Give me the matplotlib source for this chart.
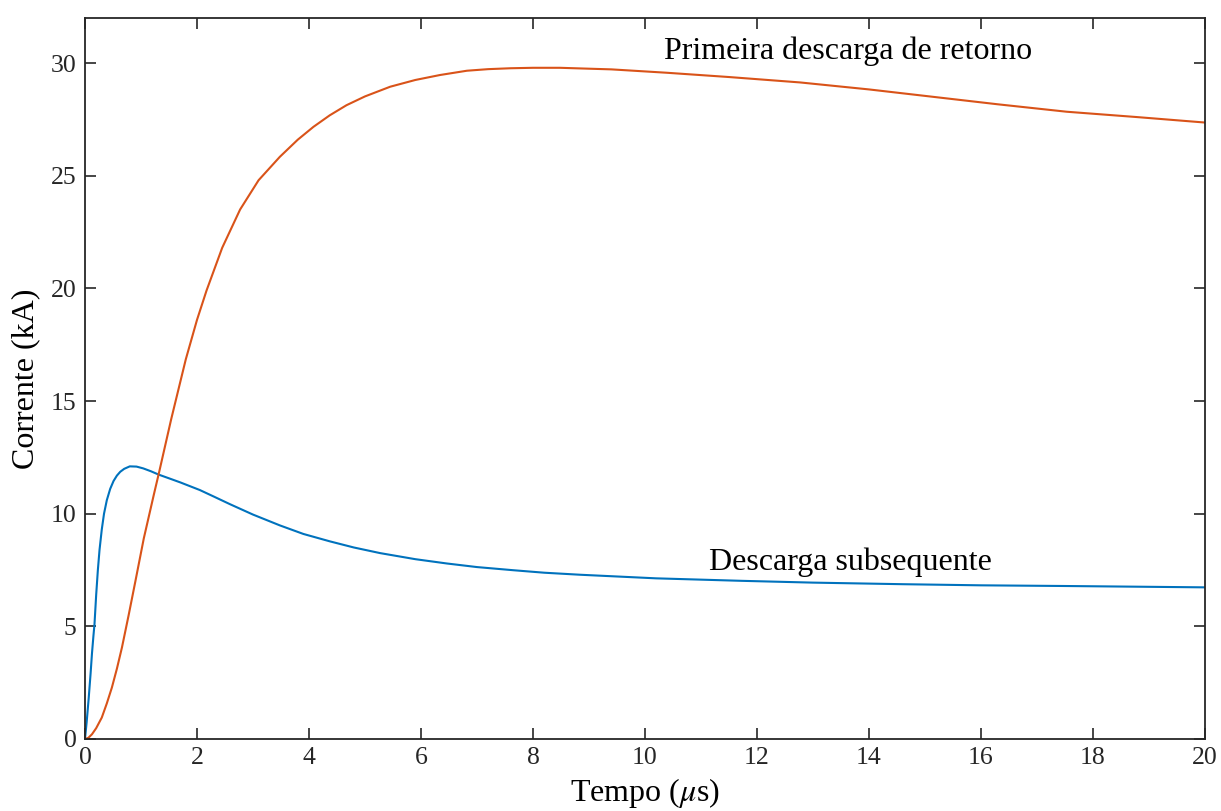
import matplotlib
matplotlib.use('Agg')
import matplotlib.pyplot as plt

# Valores (tempo em us, corrente em kA)
t_primeira = [0, 0.06, 0.125, 0.20, 0.30, 0.39, 0.48, 0.57, 0.66, 0.78, 0.90, 1.05,
              1.23, 1.32, 1.54, 1.80, 2.00, 2.17, 2.45, 2.77, 3.10, 3.48, 3.80,
              4.08, 4.37, 4.67, 5.00, 5.45, 5.90, 6.34, 6.82, 7.20, 7.60, 8.00,
              8.48, 9.00, 9.40, 10.39, 11.50, 12.77, 14.00, 15.15, 16.30, 17.53,
              18.80, 20.0]
i_primeira = [0, 0.05, 0.21, 0.48, 0.95, 1.58, 2.28, 3.12, 4.06, 5.50, 7.00, 8.90,
              10.85, 11.80, 14.20, 16.85, 18.60, 19.90, 21.80, 23.50, 24.80, 25.84, 26.60,
              27.17, 27.68, 28.13, 28.52, 28.95, 29.25, 29.47, 29.66, 29.73, 29.77, 29.79,
              29.79, 29.75, 29.72, 29.57, 29.38, 29.14, 28.83, 28.50, 28.17, 27.84,
              27.60, 27.36]

t_subseq = [0, 0.03, 0.066, 0.10, 0.125, 0.15, 0.17, 0.20, 0.23, 0.26, 0.30, 0.34,
            0.39, 0.45, 0.51, 0.57, 0.63, 0.70, 0.80, 0.92, 1.04, 1.18, 1.32, 1.50,
            1.70, 2.05, 2.30, 2.59, 3.00, 3.48, 3.90, 4.375, 4.80, 5.27, 5.90, 6.46,
            7.00, 7.65, 8.20, 8.84, 10.20, 11.72, 13.00, 14.60, 16.00, 17.49, 20.0]
i_subseq = [0, 0.75, 1.80, 2.90, 3.80, 4.55, 5.10, 6.40, 7.50, 8.40, 9.30, 10.00,
            10.60, 11.10, 11.45, 11.69, 11.86, 11.99, 12.10, 12.09, 12.01, 11.88, 11.73, 11.57,
            11.39, 11.05, 10.76, 10.42, 9.96, 9.48, 9.10, 8.77, 8.50, 8.25, 7.98, 7.79,
            7.63, 7.49, 7.38, 7.29, 7.13, 7.02, 6.94, 6.87, 6.82, 6.79, 6.73]

x_ticks = list(range(0, 21, 2))
y_ticks = list(range(0, 31, 5))

plt.rcParams['font.family'] = ['Liberation Serif', 'DejaVu Serif']
plt.rcParams['mathtext.fontset'] = 'stix'

fig = plt.figure(figsize=(12.21, 8.11), dpi=100)
ax = fig.add_axes([0.0696, 0.0888, 0.9173, 0.889])

ax.plot(t_subseq, i_subseq, color='#0072BD', linewidth=1.5)
ax.plot(t_primeira, i_primeira, color='#D95319', linewidth=1.5)

ax.text(10.34, 30.16, 'Primeira descarga de retorno', fontsize=23, va='baseline', ha='left')
ax.text(11.14, 7.51, 'Descarga subsequente', fontsize=23, va='baseline', ha='left')

ax.set_xlim(0, 20)
ax.set_ylim(0, 32)
ax.set_xticks(x_ticks)
ax.set_yticks(y_ticks)
ax.tick_params(direction='in', length=8, width=1.2, colors='#262626', labelsize=18.5,
               top=True, right=True, pad=6)
for s in ax.spines.values():
    s.set_linewidth(1.3)
    s.set_color('#262626')

ax.set_xlabel(r'Tempo ($\mu$s)', fontsize=23, labelpad=5)
ax.set_ylabel('Corrente (kA)', fontsize=23, labelpad=8)

fig.savefig('out.png', dpi=100)
